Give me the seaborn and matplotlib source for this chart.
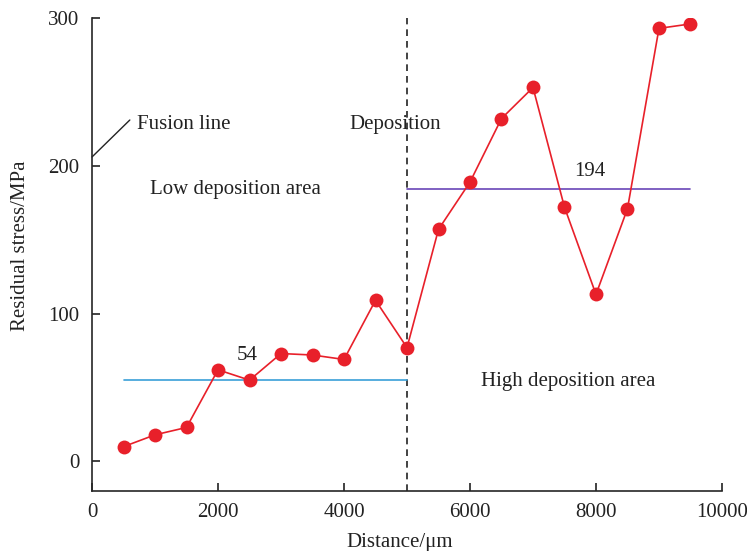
import numpy as np
import pandas as pd
import matplotlib
matplotlib.use('Agg')
import matplotlib.pyplot as plt
import seaborn as sns

# data
distance = [500, 1000, 1500, 2000, 2500, 3000, 3500, 4000, 4500, 5000,
            5500, 6000, 6500, 7000, 7500, 8000, 8500, 9000, 9500]
stress = [10, 18, 23, 62, 55, 73, 72, 69, 109, 77,
          157, 189, 232, 253, 172, 113, 171, 293, 296]
low_mean_x = [500, 5000]
low_mean_y = [55, 55]
high_mean_x = [5000, 9500]
high_mean_y = [184, 184]
x_ticks = [0, 2000, 4000, 6000, 8000, 10000]
y_ticks = [0, 100, 200, 300]

sns.set_style('ticks')
plt.rcParams['font.family'] = ['Liberation Serif', 'DejaVu Serif']

df = pd.DataFrame({'Distance': distance, 'Stress': stress})

fig = plt.figure(figsize=(7.47, 5.51), dpi=100)
ax = fig.add_axes([0.1232, 0.1089, 0.8433, 0.8584])

sns.lineplot(data=df, x='Distance', y='Stress', ax=ax, color='#e8202a',
             linewidth=1.2, marker='o', markersize=10, markeredgewidth=0,
             zorder=3)
ax.plot(low_mean_x, low_mean_y, color='#3a9fd8', linewidth=1.2, zorder=2)
ax.plot(high_mean_x, high_mean_y, color='#6a46b8', linewidth=1.2, zorder=2)
ax.axvline(5000, color='#222222', linestyle=(0, (4, 3)), linewidth=1.2, zorder=1)

ax.set_xlim(0, 10000)
ax.set_ylim(-20, 300)
ax.set_xticks(x_ticks)
ax.set_yticks(y_ticks)
sns.despine(ax=ax)
ax.spines['left'].set_linewidth(1.2)
ax.spines['bottom'].set_linewidth(1.2)
ax.tick_params(direction='in', length=6, width=1.2, labelsize=15,
               colors='#222222', pad=9)

ax.set_xlabel('Distance/μm', fontsize=15, color='#222222')
ax.set_ylabel('Residual stress/MPa', fontsize=15, color='#222222')
ax.xaxis.set_label_coords(0.489, -0.089)
ax.yaxis.set_label_coords(-0.098, 0.518)

txt = dict(fontsize=15, color='#222222', va='center', ha='left')
ax.plot([0, 600], [206, 231], color='#222222', linewidth=1.0, clip_on=False)
ax.text(710, 228, 'Fusion line', **txt)
ax.text(4090, 228, 'Deposition', **txt)
ax.text(920, 184, 'Low deposition area', **txt)
ax.text(6170, 54, 'High deposition area', **txt)
ax.text(2300, 72, '54', **txt)
ax.text(7650, 196, '194', **txt)

fig.savefig('out.png', dpi=100)
